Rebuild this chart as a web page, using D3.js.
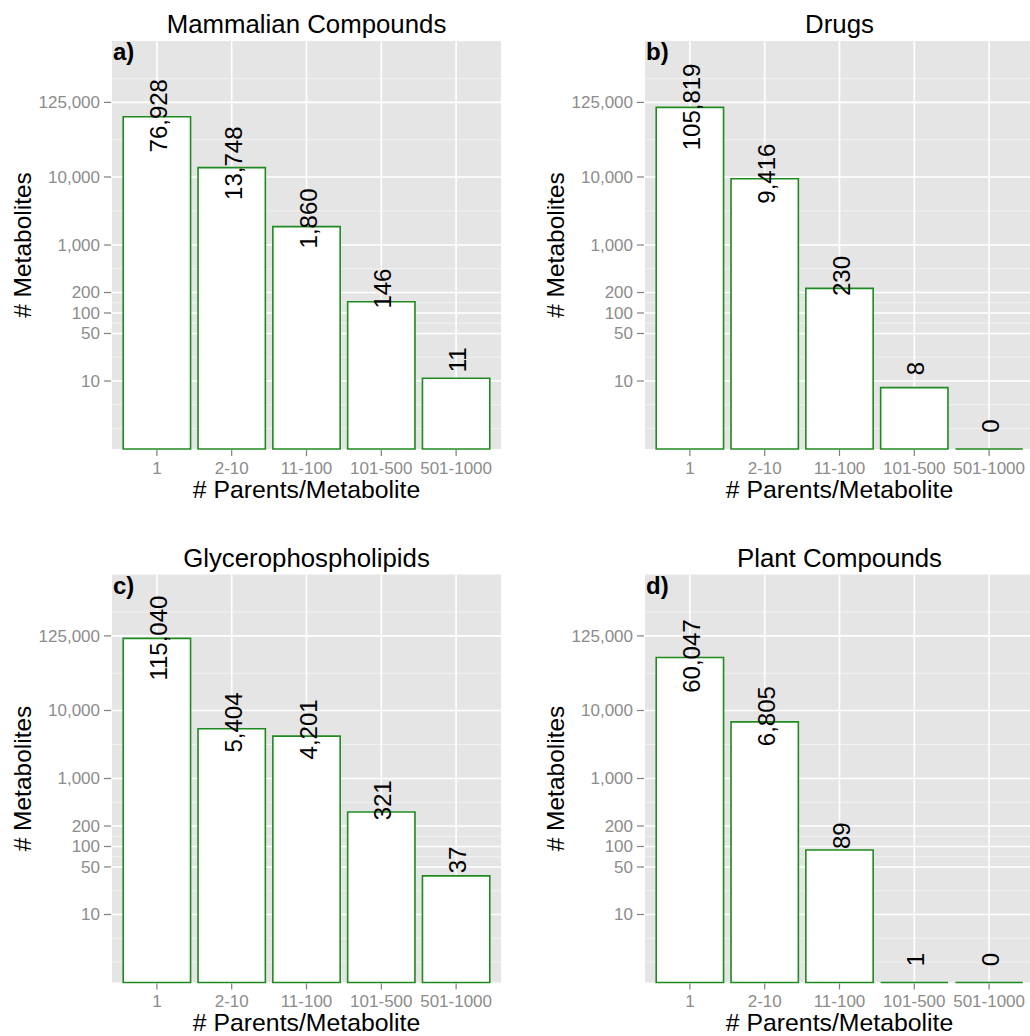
<!DOCTYPE html>
<html>
<head>
<meta charset="utf-8">
<script src="https://cdn.jsdelivr.net/npm/d3@7"></script>
<style>
  body { margin: 0; background: #fff; }
  text { font-family: "Liberation Sans", Arial, Helvetica, sans-serif; }
</style>
</head>
<body>
<script>
const width = 1030;
const height = 1036;

// data
const categories = ["1", "2-10", "11-100", "101-500", "501-1000"];
const mammalian = [76928, 13748, 1860, 146, 11];
const drugs = [105819, 9416, 230, 8, 0];
const glycero = [115040, 5404, 4201, 321, 37];
const plant = [60047, 6805, 89, 1, 0];
const titles = ["Mammalian Compounds", "Drugs", "Glycerophospholipids", "Plant Compounds"];
const letters = ["a)", "b)", "c)", "d)"];
const yTicks = [10, 50, 100, 200, 1000, 10000, 125000];
const yDomain = [1, 1e6];

const series = [mammalian, drugs, glycero, plant];

const panelW = 389, panelH = 408;
const lefts = [112, 645];
const tops = [41, 574.5];

const green = "#1f8a1f";
const fmt = d3.format(",");

var svg = d3.select("body").append("svg")
    .attr("width", width)
    .attr("height", height);

// minor breaks like ggplot: midpoints in log space, extended by first gap
const logB = yTicks.map(d => Math.log10(d));
const gap = logB[1] - logB[0];
const ext = [logB[0] - gap].concat(logB, [logB[logB.length - 1] + gap]);
var minors = [ext[0]];
for (let i = 0; i < ext.length - 1; i++) minors.push((ext[i] + ext[i + 1]) / 2);
minors = minors.filter(m => m > 0 && m < 6).map(m => Math.pow(10, m));

series.forEach(function(vals, p) {
  const left = lefts[p % 2], top = tops[Math.floor(p / 2)];
  const data = categories.map((c, i) => ({cat: c, value: vals[i]}));

  const x = d3.scaleBand().domain(categories)
      .range([0, panelW]).paddingInner(0.1).paddingOuter(0.15);
  const y = d3.scaleLog().domain(yDomain).range([panelH, 0]);

  const g = svg.append("g").attr("transform", `translate(${left},${top})`);

  g.append("rect")
      .attr("width", panelW).attr("height", panelH)
      .attr("fill", "#e5e5e5");

  g.selectAll(".minor").data(minors).enter().append("line")
      .attr("x1", 0).attr("x2", panelW)
      .attr("y1", d => y(d)).attr("y2", d => y(d))
      .attr("stroke", "#f2f2f2").attr("stroke-width", 1);

  g.selectAll(".major").data(yTicks).enter().append("line")
      .attr("x1", 0).attr("x2", panelW)
      .attr("y1", d => y(d)).attr("y2", d => y(d))
      .attr("stroke", "#fff").attr("stroke-width", 1.6);

  g.selectAll(".vgrid").data(categories).enter().append("line")
      .attr("x1", d => x(d) + x.bandwidth() / 2).attr("x2", d => x(d) + x.bandwidth() / 2)
      .attr("y1", 0).attr("y2", panelH)
      .attr("stroke", "#fff").attr("stroke-width", 1.6);

  // bars as paths so zero-height bars still show their outline
  g.selectAll(".bar").data(data).enter().append("path")
      .attr("d", function(d) {
        const y0 = y(Math.max(d.value, 1));
        return `M${x(d.cat)},${panelH}V${y0}H${x(d.cat) + x.bandwidth()}V${panelH}Z`;
      })
      .attr("fill", "#fff")
      .attr("stroke", green)
      .attr("stroke-width", 1.6);

  // value labels, rotated
  g.selectAll(".lab").data(data).enter().append("text")
      .attr("transform", function(d) {
        const v = Math.max(d.value, 1);
        const off = 23 - 4.5 * Math.log10(v);
        return `translate(${x(d.cat) + x.bandwidth() / 2 + 1.5},${y(v) - off}) rotate(-90)`;
      })
      .attr("text-anchor", "middle")
      .attr("dy", "0.36em")
      .attr("font-size", 24)
      .attr("fill", "#000")
      .text(d => fmt(d.value));

  // y axis
  const ya = g.append("g");
  ya.selectAll("line").data(yTicks).enter().append("line")
      .attr("x1", -8).attr("x2", -1)
      .attr("y1", d => y(d)).attr("y2", d => y(d))
      .attr("stroke", "#7f7f7f").attr("stroke-width", 1.2);
  ya.selectAll("text").data(yTicks).enter().append("text")
      .attr("x", -12).attr("y", d => y(d))
      .attr("dy", "0.35em")
      .attr("text-anchor", "end")
      .attr("font-size", 17)
      .attr("fill", "#8c8c8c")
      .text(d => fmt(d));

  // x axis
  const xa = g.append("g").attr("transform", `translate(0,${panelH})`);
  xa.selectAll("line").data(categories).enter().append("line")
      .attr("x1", d => x(d) + x.bandwidth() / 2).attr("x2", d => x(d) + x.bandwidth() / 2)
      .attr("y1", 1).attr("y2", 7)
      .attr("stroke", "#7f7f7f").attr("stroke-width", 1.2);
  xa.selectAll("text").data(categories).enter().append("text")
      .attr("x", d => x(d) + x.bandwidth() / 2).attr("y", 24.5)
      .attr("text-anchor", "middle")
      .attr("font-size", 17)
      .attr("fill", "#8c8c8c")
      .text(d => d);

  g.append("text")
      .attr("x", panelW / 2).attr("y", panelH + 48.5)
      .attr("text-anchor", "middle")
      .attr("font-size", 24.8)
      .text("# Parents/Metabolite");

  g.append("text")
      .attr("transform", `translate(${-81},${panelH / 2}) rotate(-90)`)
      .attr("text-anchor", "middle")
      .attr("font-size", 24.5)
      .text("# Metabolites");

  g.append("text")
      .attr("x", panelW / 2).attr("y", -8)
      .attr("text-anchor", "middle")
      .attr("font-size", 25.8)
      .text(titles[p]);

  g.append("text")
      .attr("x", 1).attr("y", 19)
      .attr("font-size", 24)
      .attr("font-weight", "bold")
      .text(letters[p]);
});
</script>
</body>
</html>
